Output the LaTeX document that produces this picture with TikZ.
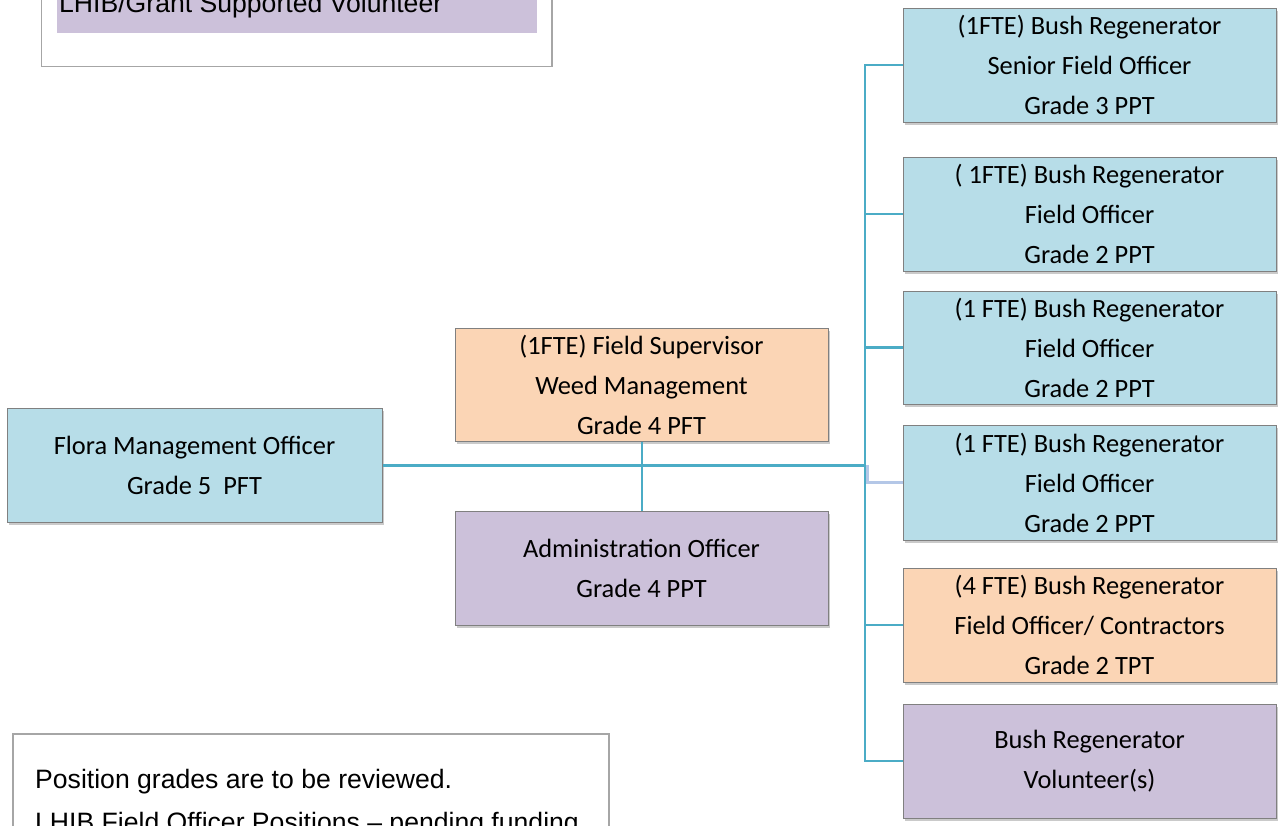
\documentclass[tikz,border=0pt]{standalone}
\usepackage{fontspec}
\setmainfont{Carlito}
\newfontfamily\arialfont{Liberation Sans}
\usetikzlibrary{shadows}
\definecolor{boxblue}{HTML}{B7DDE8}
\definecolor{boxorange}{HTML}{FBD5B5}
\definecolor{boxpurple}{HTML}{CCC1DA}
\definecolor{boxedge}{HTML}{808080}
\definecolor{conncol}{HTML}{4BACC6}
\definecolor{lightconn}{HTML}{B4C7E7}
\definecolor{legendedge}{HTML}{A6A6A6}
\tikzset{
  orgbox/.style={rectangle, draw=boxedge, line width=1pt, minimum width=373pt, minimum height=114pt,
    inner sep=0pt, align=center, font=\fontsize{26.4}{40}\selectfont,
    drop shadow={shadow xshift=2pt, shadow yshift=-3pt, opacity=0.35, fill=black!60}},
  bluebox/.style={orgbox, fill=boxblue},
  orangebox/.style={orgbox, fill=boxorange},
  purplebox/.style={orgbox, fill=boxpurple},
  conn/.style={draw=conncol, line width=2.5pt},
  lconn/.style={draw=lightconn, line width=3pt},
  legendbox/.style={draw=legendedge, line width=1.5pt},
  legendtext/.style={anchor=base west, inner sep=0pt, font=\arialfont\fontsize{26.6}{30}\selectfont}
}
\begin{document}
\begin{tikzpicture}[x=1pt,y=-1pt]
\useasboundingbox (0,0) rectangle (1282,825);
\clip (0,0) rectangle (1282,825);
% top legend
\draw[legendbox] (41.5,-10) rectangle (552,66.5);
\fill[boxpurple] (57,-10) rectangle (537,32.5);
\node[legendtext] (leg1) at (59,12) {LHIB/Grant Supported Volunteer};
% bottom legend
\draw[legendbox, fill=white] (13,734) rectangle (609,845);
\node[legendtext] (leg2) at (35,788) {Position grades are to be reviewed.};
\node[legendtext] (leg3) at (35,831) {LHIB Field Officer Positions – pending funding};
% boxes
\node[bluebox, minimum width=375pt] (flora) at (194.5,465) {Flora Management Officer\\Grade 5\ \ PFT};
\node[orangebox, minimum height=113pt] (sup) at (641.5,384.5) {(1FTE) Field Supervisor\\Weed Management\\Grade 4 PFT};
\node[purplebox] (admin) at (641.5,568) {Administration Officer\\Grade 4 PPT};
\node[bluebox] (r1) at (1089.5,65) {(1FTE) Bush Regenerator\\Senior Field Officer\\Grade 3 PPT};
\node[bluebox] (r2) at (1089.5,214) {( 1FTE) Bush Regenerator\\Field Officer\\Grade 2 PPT};
\node[bluebox, minimum height=113pt] (r3) at (1089.5,347.5) {(1 FTE) Bush Regenerator\\Field Officer\\Grade 2 PPT};
\node[bluebox, minimum height=115pt] (r4) at (1089.5,482.5) {(1 FTE) Bush Regenerator\\Field Officer\\Grade 2 PPT};
\node[orangebox] (r5) at (1089.5,625) {(4 FTE) Bush Regenerator\\Field Officer/ Contractors\\Grade 2 TPT};
\node[purplebox] (r6) at (1089.5,761) {Bush Regenerator\\Volunteer(s)};
% connectors
\coordinate (busmid) at (865,465);
\coordinate (lightbend) at (867,465);
\draw[conn, line width=3pt] (flora.east) -- (busmid);
\draw[conn] (r1.west) -| (busmid) |- (r6.west);
\draw[conn] (r2.west) -- (r2.west -| busmid);
\draw[conn] (r3.west) -- (r3.west -| busmid);
\draw[conn] (r5.west) -- (r5.west -| busmid);
\draw[lconn] (lightbend) |- (r4.west);
\draw[conn, line width=2pt] (sup.south) -- (admin.north);
\end{tikzpicture}
\end{document}
